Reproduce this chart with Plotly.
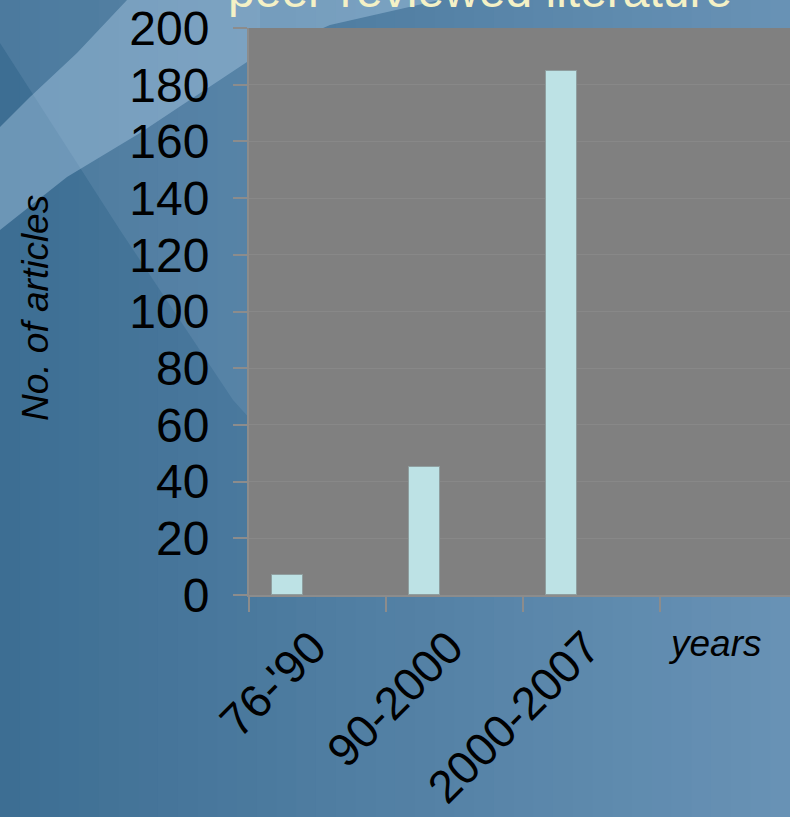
import plotly.graph_objects as go

# ---- data ----
categories = ["76-'90", "90-2000", "2000-2007"]
articles = [7, 45, 185]
y_ticks = list(range(0, 201, 20))
title_text = "peer-reviewed literature"
y_title = "No. of articles"
x_title = "years"

W, H = 790, 817
L, R, T, B = 249, 0, 28, 222
PW, PH = W - L - R, H - T - B

def px(x):
    return (x - L) / PW

def py(y):
    return (H - B - y) / PH

def path(points):
    return "M " + " L ".join(f"{px(x):.5f},{py(y):.5f}" for x, y in points) + " Z"

FONT = "Liberation Sans, Arial, sans-serif"

fig = go.Figure()
fig.add_trace(go.Bar(
    x=categories, y=articles,
    marker=dict(color="#bde2e5", line=dict(color="#8f9e9f", width=1)),
    offset=-0.332, width=0.226,
    showlegend=False, hoverinfo="x+y",
))

def bg(points, color):
    return dict(type="path", path=path(points), fillcolor=color,
                line=dict(width=0), layer="below", xref="paper", yref="paper")

# horizontal background gradient built from thin strips
c0, c1 = (61, 110, 147), (104, 146, 181)
shapes = []
N = 40
for i in range(N):
    t = i / (N - 1)
    col = tuple(round(a + (b - a) * t) for a, b in zip(c0, c1))
    x0 = W * i / N
    x1 = W * (i + 1) / N + 1
    shapes.append(bg([(x0, 0), (x1, 0), (x1, H), (x0, H)], "rgb(%d,%d,%d)" % col))

shapes += [
    bg([(0, 0), (260, 0), (260, 430), (233, 400), (120, 230), (0, 43)],
       "rgba(170,200,225,0.14)"),
    bg([(0, 127), (30, 97), (77, 53), (127, 0), (440, 0), (330, 25), (250, 60),
        (140, 133), (67, 177), (0, 230)], "rgba(180,210,235,0.40)"),
    dict(type="rect", x0=0, x1=1, y0=0, y1=1, xref="paper", yref="paper",
         fillcolor="#808080", line=dict(width=0), layer="below"),
]

annotations = [
    dict(text=title_text, x=px(480), y=py(19), xref="paper", yref="paper",
         xanchor="center", yanchor="bottom", showarrow=False,
         font=dict(family=FONT, size=48, color="#f4f1c6")),
    dict(text=y_title, x=px(35), y=py(308), xref="paper", yref="paper",
         xanchor="center", yanchor="middle", textangle=-90, showarrow=False,
         font=dict(family=FONT, size=37, color="black", style="italic")),
    dict(text=x_title, x=px(714), y=py(643), xref="paper", yref="paper",
         xanchor="center", yanchor="middle", showarrow=False,
         font=dict(family=FONT, size=37, color="black", style="italic")),
]

fig.update_layout(
    width=W, height=H,
    margin=dict(l=L, r=R, t=T, b=B, pad=0, autoexpand=False),
    paper_bgcolor="#5887ad",
    plot_bgcolor="rgba(0,0,0,0)",
    shapes=shapes,
    annotations=annotations,
    showlegend=False,
    bargap=0,
    xaxis=dict(
        type="category", categoryorder="array", categoryarray=categories,
        range=[-0.5, -0.5 + PW / 137.0],
        tickson="boundaries", ticks="outside", ticklen=15, tickwidth=2,
        tickcolor="#8c8c8c", showline=True, linecolor="#8c8c8c", linewidth=2,
        showgrid=False, tickangle=-45,
        tickfont=dict(family=FONT, size=46, color="black"),
        ticklabelshift=-5, ticklabelstandoff=5,
        automargin=False, fixedrange=True,
    ),
    yaxis=dict(
        range=[0, 200], tickvals=y_ticks, ticks="outside", ticklen=14, tickwidth=2,
        tickcolor="#8c8c8c", showline=True, linecolor="#8c8c8c", linewidth=2,
        showgrid=True, gridcolor="#888888", gridwidth=1, zeroline=False,
        tickfont=dict(family=FONT, size=48, color="black"),
        ticklabelstandoff=14,
        automargin=False, fixedrange=True,
    ),
)

fig.write_html("out.html")
